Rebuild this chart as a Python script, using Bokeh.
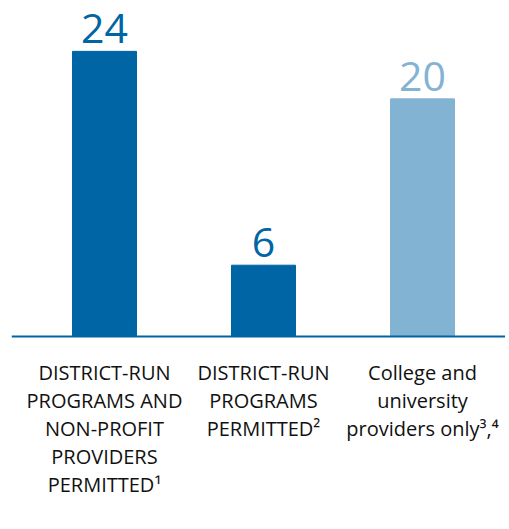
from bokeh.plotting import figure
from bokeh.models import ColumnDataSource, Span, Range1d
from bokeh.core.properties import value
from bokeh.embed import file_html
from bokeh.resources import INLINE

categories = [
    "DISTRICT-RUN\nPROGRAMS AND\nNON-PROFIT\nPROVIDERS\nPERMITTED\u00b9",
    "DISTRICT-RUN\nPROGRAMS\nPERMITTED\u00b2",
    "College and\nuniversity\nproviders only\u00b3,\u2074",
]
counts = [24, 6, 20]
bar_colors = ["#0065A4", "#0065A4", "#83B3D3"]

xs = list(range(len(categories)))
src = ColumnDataSource(dict(
    x=xs, y=counts, color=bar_colors,
    label=[str(v) for v in counts], cat=categories,
    zero=[0] * len(xs),
))

p = figure(width=505, height=525, output_backend="svg", toolbar_location=None,
           x_range=Range1d(-0.5849, 2.522), y_range=Range1d(-15.91, 28.28),
           min_border_left=11, min_border_right=0, min_border_top=0, min_border_bottom=0)
p.axis.visible = False
p.grid.visible = False
p.outline_line_color = None
p.background_fill_color = "white"

p.vbar(x="x", top="y", width=0.4025, color="color", source=src)
p.add_layout(Span(location=0, dimension="width", line_color="#0065A4", line_width=2))

p.text(x="x", y="y", text="label", source=src, text_color="color",
       text_font=value("Open Sans"), text_font_size="41px",
       text_align="center", text_baseline="bottom", y_offset=-8)

p.text(x="x", y="zero", text="cat", source=src, text_color="#111111",
       text_font=value("Open Sans"), text_font_size="20px",
       text_align="center", text_baseline="top", y_offset=23,
       text_line_height=1.03)

open("out.html", "w").write(file_html(p, INLINE))
